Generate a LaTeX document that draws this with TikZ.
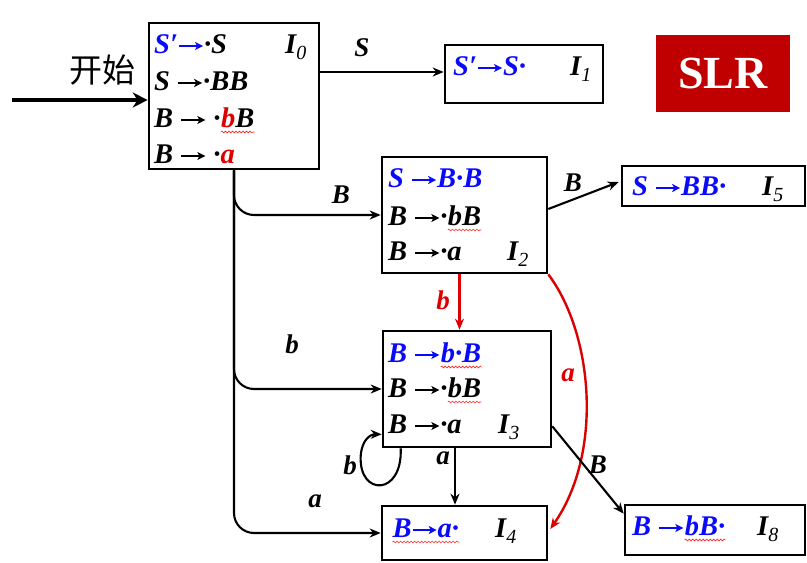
\documentclass[tikz,border=0pt]{standalone}
\usepackage{fontspec}
\setmainfont{Liberation Serif}
\newfontfamily\cjk{Noto Sans CJK SC}
\usetikzlibrary{arrows.meta,calc,decorations.pathmorphing}
\definecolor{myblue}{RGB}{10,10,250}
\definecolor{myred}{RGB}{220,0,0}
\definecolor{slrred}{RGB}{192,0,0}
\tikzset{
  squig/.style={red!85!white, line width=0.6pt, decorate, decoration={snake, amplitude=0.9pt, segment length=3.5pt}},
}
\newcommand\rwave[1]{\tikz[baseline=(w.base)]{\node[inner sep=0pt] (w) {#1}; \draw[squig] ([yshift=-5pt]w.base west) -- ([yshift=-5pt]w.base east);}}
\newcommand\Isub[1]{I\raisebox{-6pt}{\fontsize{20}{20}\selectfont\mdseries #1}}
\newcommand\bl[1]{\textcolor{myblue}{#1}}
\newcommand\rd[1]{\textcolor{myred}{#1}}
\newcommand\ar{\tikz[baseline=0pt]{\path (0pt,0pt) -- (26pt,0pt); \draw[line width=1.7pt,-{Stealth[length=8pt,width=8pt,inset=2pt]}] (1pt,7pt) -- (25pt,7pt);}}
\tikzset{
  box/.style={draw, line width=2.6pt, inner sep=0pt},
  itm/.style={anchor=base west, inner sep=0pt, font=\fontsize{28.5}{28.5}\selectfont\bfseries\itshape},
  lbl/.style={inner sep=0pt, font=\fontsize{27}{27}\selectfont\bfseries\itshape},
  conn/.style={line width=2.1pt, -{Stealth[length=11pt,width=9pt]}},
  redconn/.style={conn, myred, line width=2.4pt},
}
\begin{document}
\begin{tikzpicture}[x=1pt,y=-1pt]
\useasboundingbox (0,0) rectangle (807,563);
% boxes
\node[box, minimum width=170pt, minimum height=146pt] (I0) at (234,96) {};
\node[box, minimum width=158pt, minimum height=58pt] (I1) at (524,74) {};
\node[fill=slrred, minimum width=134pt, minimum height=77pt, text=white,
      font=\fontsize{46}{46}\selectfont\bfseries] (slr) at (723,73.5) {SLR};
\node[box, minimum width=165pt, minimum height=116pt] (I2) at (464.5,215) {};
\node[box, minimum width=183pt, minimum height=40pt] (I5) at (713.5,186) {};
\node[box, minimum width=168pt, minimum height=116pt] (I3) at (467,389) {};
\node[box, minimum width=165pt, minimum height=54pt] (I4) at (464.5,533) {};
\node[box, minimum width=180pt, minimum height=50pt] (I8) at (715,530) {};
% I0 items
\node[itm] (i01) at (154,53) {\bl{S′\ar}·S};
\node[itm] (i0l) at (285,53) {\Isub{0}};
\node[itm] (i02) at (154,90) {S \ar·BB};
\node[itm] (i03) at (154,127) {B \ar{} ·\rwave{\rd{b}B}};
\node[itm] (i04) at (154,163) {B \ar{} ·\rd{a}};
% I1
\node[itm] (i11) at (453,75) {\bl{S′\ar S·}};
\node[itm] (i1l) at (570,75) {\Isub{1}};
% I2
\node[itm] (i21) at (388,187) {\bl{S \ar B·B}};
\node[itm] (i22) at (388,225) {B \ar·\rwave{bB}};
\node[itm] (i23) at (388,260) {B \ar·a};
\node[itm] (i2l) at (507,260) {\Isub{2}};
% I3
\node[itm] (i31) at (388,362) {\bl{B \ar\rwave{b·B}}};
\node[itm] (i32) at (388,397) {B \ar·\rwave{bB}};
\node[itm] (i33) at (388,433) {B \ar·a};
\node[itm] (i3l) at (498,433) {\Isub{3}};
% I4
\node[itm] (i41) at (392,537) {\rwave{\bl{B\ar}\bl{a·}}};
\node[itm] (i4l) at (495,537) {\Isub{4}};
% I5
\node[itm] (i51) at (632,195) {\bl{S \ar BB·}};
\node[itm] (i5l) at (762,195) {\Isub{5}};
% I8
\node[itm] (i81) at (632,535) {\bl{B \ar\rwave{bB·}}};
\node[itm] (i8l) at (757,535) {\Isub{8}};
% start arrow
\coordinate (st) at (12,100);
\draw[line width=3.8pt, -{Stealth[length=15pt,width=15pt]}] (st) -- (st -| I0.west);
\node[font=\cjk\fontsize{33}{33}\selectfont, inner sep=0pt] (start) at (102,70) {开始};
% I0 -> I1
\draw[conn] ($(I0.east |- I1.west)+(0,-2)$) -- ($(I1.west)+(0,-2)$);
\node[lbl] (lS) at (362,48) {S};
% trunk from I0
\draw[conn, rounded corners=20pt] (I0.south) |- (I2.west);
\draw[conn, rounded corners=20pt] (I0.south) |- (I3.west);
\draw[conn, rounded corners=20pt] (I0.south) |- (I4.west);
\node[lbl] (lB1) at (341,195) {B};
\node[lbl] (lb1) at (292,344) {b};
\node[lbl] (la1) at (315,501) {a};
% I2 -> I5
\draw[conn] ($(I2.east)+(0,-6)$) -- ($(I5.west)+(-2,-4)$);
\node[lbl] (lB2) at (573,183) {B};
% I2 -> I3 red
\draw[redconn] ([xshift=-5pt]I2.south) -- ([xshift=-5pt]I2.south |- I3.north);
\node[lbl, myred] (lb2) at (443,300) {b};
% I2 -> I4 red curve
\draw[redconn] (I2.south east) .. controls ($(I2.south east)+(45,60)$) and ($(I4.east)+(55,-80)$) .. ($(I4.east)+(2,-4)$);
\node[lbl, myred] (la2) at (568,375) {a};
% I3 -> I8
\draw[conn] ($(I3.south east)+(0,-22)$) -- ($(I8.north west)+(0,10)$);
\node[lbl] (lB3) at (598,465) {B};
% I3 -> I4
\draw[conn] ([xshift=-12pt]I3.south) -- ([xshift=-12pt]I3.south |- I4.north);
\node[lbl] (la3) at (443,458) {a};
% self loop on I3
\draw[conn] ($(I3.south west)+(19,0)$) .. controls ($(I3.south west)+(21,48)$) and ($(I3.south west)+(-23,48)$) .. ($(I3.south west)+(-21,8)$)
  .. controls ($(I3.south west)+(-20,-9)$) and ($(I3.south west)+(-11,-14)$) .. ($(I3.south west)+(0,-14)$);
\node[lbl] (lb3) at (350,465) {b};
\end{tikzpicture}
\end{document}
